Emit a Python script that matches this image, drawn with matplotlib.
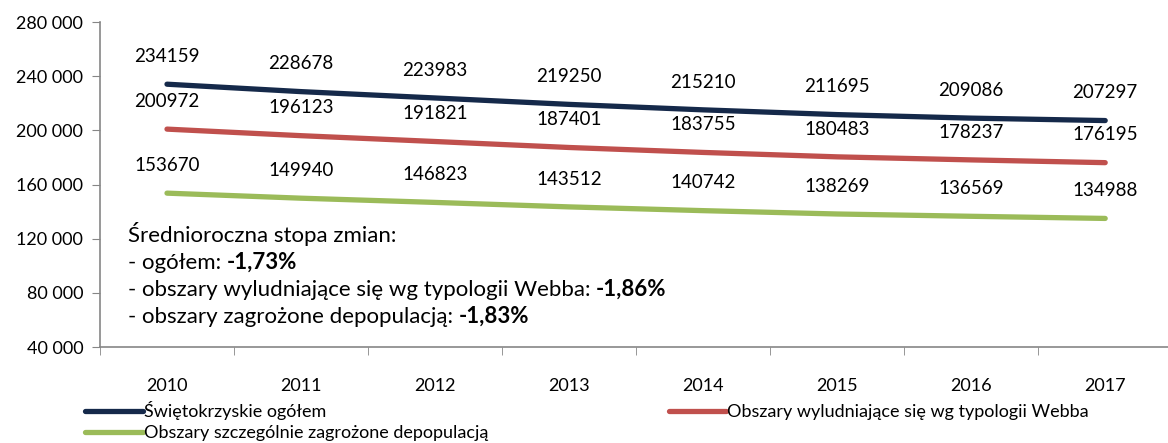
import numpy as np
import matplotlib.pyplot as plt
from matplotlib.ticker import FuncFormatter

plt.rcParams['font.family'] = ['Lato', 'DejaVu Sans']

years = ['2010', '2011', '2012', '2013', '2014', '2015', '2016', '2017']
ogolem = [234159, 228678, 223983, 219250, 215210, 211695, 209086, 207297]
webb = [200972, 196123, 191821, 187401, 183755, 180483, 178237, 176195]
depop = [153670, 149940, 146823, 143512, 140742, 138269, 136569, 134988]

series_names = ['Świętokrzyskie ogółem',
                'Obszary wyludniające się wg typologii Webba',
                'Obszary szczególnie zagrożone depopulacją']
colors = ['#15294a', '#c0504d', '#9bbb59']

fig = plt.figure(figsize=(11.68, 4.43), dpi=100)
ax = fig.add_axes([0.0856, 0.2167, 0.918, 0.7333])

x = np.arange(len(years))
lines = []
for vals, name, c in zip([ogolem, webb, depop], series_names, colors):
    ln, = ax.plot(x, vals, color=c, lw=3.8, solid_capstyle='round', label=name)
    lines.append(ln)
    for xi, v in zip(x, vals):
        ax.annotate(str(v), (xi, v), xytext=(0, 20), textcoords='offset points',
                    ha='center', va='center', fontsize=13.5, color='black')

ax.set_xlim(-0.5, 7.5)
ax.set_ylim(40000, 280000)
ax.set_yticks(np.arange(40000, 280001, 40000))
ax.yaxis.set_major_formatter(FuncFormatter(lambda v, p: f'{int(v):,}'.replace(',', ' ')))

ax.set_xticks(x)
ax.set_xticklabels(years)
ax.set_xticks(np.arange(-0.5, 8, 1), minor=True)
ax.tick_params(axis='x', which='major', length=0, pad=22, labelsize=13)
ax.tick_params(axis='x', which='minor', length=6, color='#868686', direction='out')
ax.tick_params(axis='y', length=6, color='#868686', labelsize=13, pad=6)

for s in ['top', 'right']:
    ax.spines[s].set_visible(False)
for s in ['left', 'bottom']:
    ax.spines[s].set_color('#868686')
    ax.spines[s].set_linewidth(1.2)

# annotation block
fs = 16
y0 = 0.323
dy = 0.0831
ax.text(0.026, y0, 'Średnioroczna stopa zmian:', transform=ax.transAxes,
        fontsize=fs, va='baseline')
rows = [('- ogółem: ', '-1,73%'),
        ('- obszary wyludniające się wg typologii Webba: ', '-1,86%'),
        ('- obszary zagrożone depopulacją: ', '-1,83%')]
for i, (a, b) in enumerate(rows):
    t = ax.text(0.026, y0 - dy * (i + 1), a, transform=ax.transAxes,
                fontsize=fs, va='baseline')
    ax.annotate(b, xy=(1, 0), xycoords=t, va='bottom', fontsize=fs, fontweight='bold')

fig.legend([lines[0], lines[2], lines[1]],
           [series_names[0], series_names[2], series_names[1]],
           ncol=2, loc='upper left', bbox_to_anchor=(0.065, 0.115),
           frameon=False, fontsize=13, handlelength=3.2, handletextpad=0.05,
           columnspacing=10.0, labelspacing=0.3, borderpad=0)

fig.savefig('out.png', dpi=100)
